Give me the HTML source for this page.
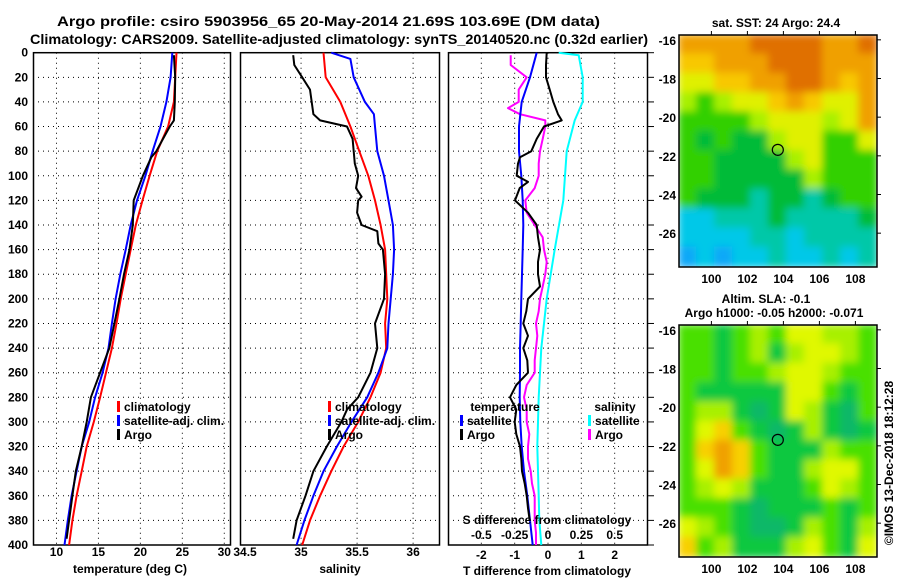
<!DOCTYPE html>
<html><head><meta charset="utf-8"><style>
html,body{margin:0;padding:0;background:#fff;}
svg{display:block;font-family:"Liberation Sans",sans-serif;font-weight:bold;}
</style></head><body>
<svg id="fig" width="900" height="580" viewBox="0 0 900 580" xmlns="http://www.w3.org/2000/svg">
<defs>
<filter id="blur" x="-10%" y="-10%" width="120%" height="120%"><feGaussianBlur stdDeviation="4"/></filter>
<clipPath id="clipM1"><rect x="679" y="35" width="198" height="232"/></clipPath>
<clipPath id="clipM2"><rect x="679" y="325" width="198" height="232"/></clipPath>
</defs>
<text x="57" y="26" font-size="14" textLength="543" lengthAdjust="spacingAndGlyphs">Argo profile: csiro 5903956_65 20-May-2014 21.69S 103.69E (DM data)</text>
<text x="30" y="44" font-size="14" textLength="618" lengthAdjust="spacingAndGlyphs">Climatology: CARS2009. Satellite-adjusted climatology: synTS_20140520.nc (0.32d earlier)</text>
<g id="g"></g>
</svg>
<script>
// ---- data ----
const depthTicks = [0,20,40,60,80,100,120,140,160,180,200,220,240,260,280,300,320,340,360,380,400];
const tempTicks = [10,15,20,25,30];
const salTicks = [34.5,35,35.5,36];
const salTickLabels = ["34.5","35","35.5","36"];
const tDiffTicks = [-2,-1,0,1,2];
const sDiffTicks = [-0.5,-0.25,0,0.25,0.5];
const sDiffTickLabels = ["-0.5","-0.25","0","0.25","0.5"];

const depthClim = [0,20,40,60,80,100,120,140,160,180,200,220,240,260,280,300,320,340,360,380,400];
const tempClim = [24.3,24.15,24.0,23.3,22.0,21.1,20.25,19.45,18.85,18.25,17.65,17.15,16.6,15.9,15.2,14.45,13.6,13.0,12.4,11.9,11.5];
const tempSat = [23.8,23.6,23.1,22.4,21.45,20.6,19.6,18.85,18.25,17.6,17.05,16.6,16.2,15.5,14.6,13.9,13.0,12.4,11.8,11.35,10.95];
const depthTempArgo = [2,20,40,55,60,70,80,85,100,120,140,160,180,200,220,240,260,280,300,320,340,360,380,395];
const tempArgo = [24.0,24.15,24.1,24.0,23.5,22.7,21.9,21.3,20.3,19.2,19.1,18.7,18.05,17.5,16.9,16.3,15.2,14.1,13.6,13.0,12.3,11.9,11.5,11.2];

const salClim = [35.20,35.22,35.35,35.44,35.52,35.60,35.66,35.71,35.75,35.76,35.77,35.75,35.76,35.71,35.62,35.51,35.38,35.27,35.17,35.08,35.01];
const depthSalSat = [0,5,20,40,50,60,80,100,120,140,160,180,200,220,240,260,280,300,320,340,360,380,400];
const salSat = [35.27,35.44,35.47,35.57,35.65,35.66,35.68,35.74,35.78,35.82,35.83,35.82,35.80,35.78,35.77,35.69,35.59,35.45,35.32,35.20,35.11,35.03,34.96];
const depthSalArgo = [2,10,20,30,50,55,60,70,80,90,100,110,117,120,130,140,145,155,160,180,200,220,240,260,280,290,300,320,340,360,380,395];
const salArgo = [34.93,34.94,35.01,35.08,35.11,35.17,35.41,35.46,35.47,35.48,35.51,35.49,35.54,35.51,35.50,35.54,35.68,35.69,35.73,35.75,35.74,35.66,35.68,35.62,35.51,35.41,35.36,35.23,35.11,35.04,34.96,34.93];

const tDiffSat = [-0.34,-0.54,-0.79,-0.87,-0.87,-0.80,-0.76,-0.74,-0.76,-0.78,-0.80,-0.82,-0.84,-0.84,-0.85,-0.83,-0.79,-0.72,-0.62,-0.54,-0.46];
const depthTDiffArgo = [0,10,20,30,40,50,55,60,70,80,85,90,100,105,110,120,130,140,150,160,170,180,190,200,210,220,230,240,250,260,270,280,290,300,310,320,330,340,350,360,370,380];
const tDiffArgo = [-0.04,-0.06,-0.06,0.05,0.16,0.30,0.41,-0.12,-0.34,-0.5,-0.84,-0.9,-0.94,-0.6,-0.85,-0.99,-0.6,-0.34,-0.3,-0.24,-0.3,-0.3,-0.24,-0.6,-0.65,-0.74,-0.6,-0.74,-0.62,-0.6,-0.95,-1.14,-0.95,-1.0,-0.95,-0.84,-0.8,-0.78,-0.7,-0.64,-0.6,-0.55];
const depthSDiffSat = [0,2,20,40,55,80,120,160,200,240,280,320,360,380,400];
const sDiffSat = [0.08,0.23,0.26,0.26,0.2,0.14,0.115,0.05,-0.01,-0.05,-0.07,-0.08,-0.07,-0.065,-0.05];
const depthSDiffArgo = [2,10,20,30,40,45,50,55,60,70,80,90,100,110,120,130,140,150,160,170,180,190,200,210,220,230,240,250,260,270,280,290,300,310,320,330,340,350,360,370,380,390,400];
const sDiffArgo = [-0.28,-0.28,-0.16,-0.22,-0.22,-0.30,-0.21,-0.02,-0.02,-0.04,-0.06,-0.07,-0.07,-0.1,-0.17,-0.16,-0.1,-0.04,-0.03,-0.01,-0.02,-0.04,-0.06,-0.07,-0.09,-0.08,-0.09,-0.1,-0.1,-0.16,-0.18,-0.16,-0.16,-0.14,-0.15,-0.15,-0.13,-0.12,-0.1,-0.1,-0.1,-0.09,-0.09];

const lonTicks = [100,102,104,106,108];
const latTicks = [-16,-18,-20,-22,-24,-26];
const argoLon = 103.69;
const argoLat = -21.69;
const sstGrid = ["ooooOOOOooO","YYoooOOOooo","yyYYooOOoYo","LGLyyYoYyyo","GGGGLyyyLyo","GgGggLyyGGy","GGggggLyGGG","GGgggggLGGG","GgggTggTgGG","BBTTTgTTTTg","BBBBTTBTTTT","bBbBBTBBTBT"];
const slaGrid = ["GGgGLGyyLLG","GGgGLgLyyLG","GGgGGLyyLGG","GgggggyyGgG","GLLgTgyLgTG","GyYGgTgLgTg","GYoYGgggLGG","GyoYGggLyyG","GLyLgggGyLG","GGGgTgggGgG","yLGgTTgLGgL","YGLgggLyGgy"];

// ---- helpers ----
const NS="http://www.w3.org/2000/svg";
const root=document.getElementById('g');
function mk(tag,attrs,parent){const e=document.createElementNS(NS,tag);for(const k in attrs)e.setAttribute(k,attrs[k]);(parent||root).appendChild(e);return e;}
const Y0=52.7,Y1=545;
function yD(d){return Y0+(d/400)*(Y1-Y0);}
function lin(d0,d1,r0,r1){return v=>r0+(v-d0)/(d1-d0)*(r1-r0);}
const xT=lin(7.2,30.8,33,231);
const xS=lin(34.455,36.24,240,440);
const xTD=lin(-3,3,448,648);
const xSD=lin(-0.75,0.75,448,648);

function frame(x0,x1,name,xgrid){
  const gp=mk('g',{});
  
  
  depthTicks.forEach(d=>{if(d>0&&d<400){const l=mk('line',{x1:x0,x2:x1,y1:yD(d),y2:yD(d),stroke:'#000','stroke-width':1,'stroke-dasharray':'1,4'},gp);
    
    }});
  xgrid.forEach(x=>{const l=mk('line',{x1:x,x2:x,y1:Y0,y2:Y1,stroke:'#000','stroke-width':1,'stroke-dasharray':'1,4'},gp);
    
    });
  const r=mk('rect',{x:x0+0.5,y:Y0,width:x1-x0-1,height:Y1-Y0,fill:'none',stroke:'#000','stroke-width':1.5},gp);
  
  
  return gp;
}
function line(xs,ds,xf,color,name,w){
  const pts=xs.map((v,i)=>xf(v).toFixed(1)+','+yD(ds[i]).toFixed(1)).join(' ');
  const p=mk('polyline',{points:pts,fill:'none',stroke:color,'stroke-width':w||2,'stroke-linejoin':'round'});
  
  
}
function txt(x,y,s,name,opt){
  opt=opt||{};
  const t=mk('text',{x:x,y:y,'font-size':opt.size||12,'text-anchor':opt.anchor||'start',fill:opt.fill||'#000'});
  if(opt.tr)t.setAttribute('transform',opt.tr);
  t.textContent=s;
  
  
  return t;
}
function legendEntry(x,y,color,label,name){
  const m=mk('rect',{x:x,y:y-10,width:3,height:11,fill:color});
  
  
  txt(x+7,y,label,name);
}

// ---- panel 1: temperature ----
frame(33,231,'temperature-panel',tempTicks.map(xT));
depthTicks.forEach(d=>txt(28,yD(d)+4,String(d),'y-tick-label',{anchor:'end'}));
tempTicks.forEach(v=>txt(xT(v),556,String(v),'x-tick-label',{anchor:'middle'}));
txt(130,573,'temperature (deg C)','temperature-axis-title',{anchor:'middle'});
line(tempClim,depthClim,xT,'#f00','temp-climatology-line');
line(tempSat,depthClim,xT,'#00f','temp-satellite-line');
line(tempArgo,depthTempArgo,xT,'#000','temp-argo-line');
legendEntry(117,411,'#f00','climatology','legend-climatology');
legendEntry(117,425,'#00f','satellite-adj. clim.','legend-satellite');
legendEntry(117,439,'#000','Argo','legend-argo');

// ---- panel 2: salinity ----
frame(240,440,'salinity-panel',salTicks.slice(1).map(xS));
salTicks.forEach((v,i)=>txt(xS(v),556,salTickLabels[i],'x-tick-label',{anchor:'middle'}));
txt(340,573,'salinity','salinity-axis-title',{anchor:'middle'});
line(salClim,depthClim,xS,'#f00','sal-climatology-line');
line(salSat,depthSalSat,xS,'#00f','sal-satellite-line');
line(salArgo,depthSalArgo,xS,'#000','sal-argo-line');
legendEntry(328,411,'#f00','climatology','legend-climatology');
legendEntry(328,425,'#00f','satellite-adj. clim.','legend-satellite');
legendEntry(328,439,'#000','Argo','legend-argo');

// ---- panel 3: differences ----
frame(448,648,'difference-panel',tDiffTicks.map(xTD));
depthTicks.forEach(d=>{const l=mk('line',{x1:648,x2:654,y1:yD(d),y2:yD(d),stroke:'#000'});
  
  });
line(sDiffSat,depthSDiffSat,xSD,'#0ff','s-diff-satellite-line');
line(sDiffArgo,depthSDiffArgo,xSD,'#f0f','s-diff-argo-line');
line(tDiffSat,depthClim,xTD,'#00f','t-diff-satellite-line');
line(tDiffArgo,depthTDiffArgo,xTD,'#000','t-diff-argo-line');
txt(505,411,'temperature','legend-temperature-heading',{anchor:'middle'});
legendEntry(460,425,'#00f','satellite','legend-t-satellite');
legendEntry(460,439,'#000','Argo','legend-t-argo');
txt(615,411,'salinity','legend-salinity-heading',{anchor:'middle'});
legendEntry(588,425,'#0ff','satellite','legend-s-satellite');
legendEntry(588,439,'#f0f','Argo','legend-s-argo');
txt(547,524,'S difference from climatology','s-diff-axis-title',{anchor:'middle'});
sDiffTicks.forEach((v,i)=>txt(xSD(v),539,sDiffTickLabels[i],'s-diff-tick-label',{anchor:'middle'}));
tDiffTicks.forEach(v=>txt(xTD(v),559,String(v),'t-diff-tick-label',{anchor:'middle'}));
txt(547,575,'T difference from climatology','t-diff-axis-title',{anchor:'middle'});

// ---- maps ----
const sstColors={O:'#e07000',o:'#f0a000',Y:'#f8c800',y:'#e0f000',L:'#a8f000',G:'#30d000',g:'#00bb38',T:'#00c8a8',B:'#00c8e8',b:'#10a8f8'};
const slaColors={G:'#48e000',g:'#10c840',T:'#10b868',L:'#a8f000',y:'#e0f800',Y:'#f8d000',o:'#f0a000'};
const xLon=lin(98.2,109.2,679,877);
function drawMap(grid,colors,top,clip,name){
  const yLat=lin(-15.75,-27.75,top,top+232);
  const gp=mk('g',{'clip-path':'url(#'+clip+')'});
  
  
  const bl=mk('g',{filter:'url(#blur)'},gp);
  const cw=198/11,ch=232/12;
  grid.forEach((row,r)=>{for(let c=0;c<row.length;c++){
    const cell=mk('rect',{x:679+c*cw-1,y:top+r*ch-1,width:cw+2,height:ch+2,fill:colors[row[c]]},bl);
    
    
  }});
  const fr=mk('rect',{x:679,y:top,width:198,height:232,fill:'none',stroke:'#000','stroke-width':1.5});
  
  
  latTicks.forEach(v=>{txt(676,yLat(v)+5,String(v),'lat-tick-label',{anchor:'end'});
    const tk=mk('line',{x1:877,x2:881,y1:yLat(v),y2:yLat(v),stroke:'#000'});
    
    });
  lonTicks.forEach(v=>{txt(xLon(v),top+248,String(v),'lon-tick-label',{anchor:'middle'});
    const tk=mk('line',{x1:xLon(v),x2:xLon(v),y1:top-4,y2:top,stroke:'#000'});
    
    });
  const c=mk('circle',{cx:xLon(argoLon),cy:yLat(argoLat),r:5.5,fill:'none',stroke:'#000','stroke-width':1.2});
  
  
}
drawMap(sstGrid,sstColors,35,'clipM1','sst-map');
drawMap(slaGrid,slaColors,325,'clipM2','sla-map');
txt(776,27,'sat. SST: 24 Argo: 24.4','sst-map-title',{anchor:'middle'});
txt(766,303,'Altim. SLA: -0.1','sla-map-title',{anchor:'middle'});
txt(774,317,'Argo h1000: -0.05 h2000: -0.071','sla-map-subtitle',{anchor:'middle'});
txt(0,0,'\u00A9IMOS 13-Dec-2018 18:12:28','copyright-timestamp',{anchor:'middle',tr:'translate(893,463) rotate(-90)'});
</script>
</body></html>
